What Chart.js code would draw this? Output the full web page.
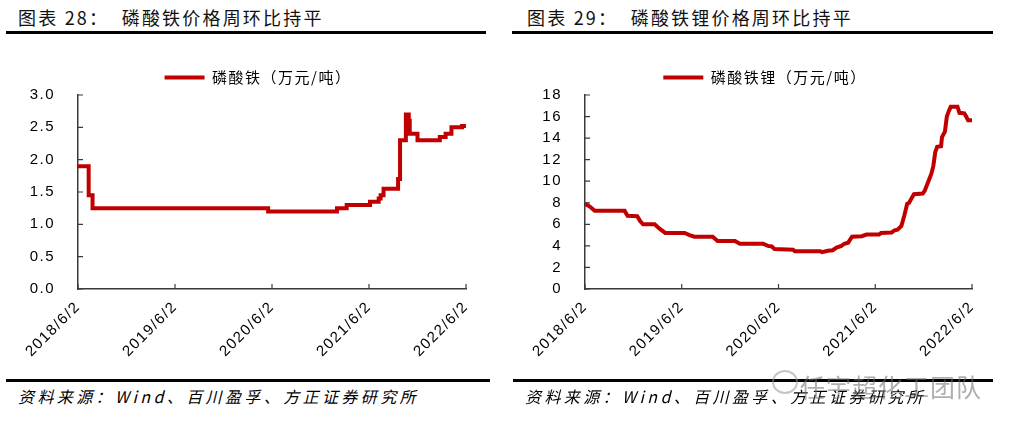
<!DOCTYPE html>
<html lang="zh">
<head>
<meta charset="UTF-8">
<title>磷酸铁 / 磷酸铁锂价格</title>
<script src="https://cdn.jsdelivr.net/npm/chart.js"></script>
<style>
  body { margin: 0; width: 1009px; height: 428px; background: #fff; position: relative; overflow: hidden;
         font-family: 'Noto Sans CJK SC', 'Liberation Sans', sans-serif; }
  .title { position: absolute; top: 4px; font-size: 18px; letter-spacing: 2.2px; color: #111; }
  .rule { position: absolute; height: 3px; background: #000; }
  .source { position: absolute; top: 384px; font-size: 16px; font-style: italic; letter-spacing: 3.4px; color: #000; }
  .box { position: absolute; top: 50px; width: 500px; height: 328px; }
  .mark { position: absolute; left: 800px; top: 368px; font-size: 25px; color: rgba(110,110,110,0.55); letter-spacing: 1px; }
  .bubble { position: absolute; left: 772px; top: 370px; width: 22px; height: 20px; border: 2px solid rgba(150,150,150,0.55); border-radius: 50%; }
</style>
</head>
<body>
  <div class="title" style="left:18px">图表 28：&nbsp; 磷酸铁价格周环比持平</div>
  <div class="rule" style="left:6px;width:480px;top:31px"></div>
  <div class="title" style="left:527px">图表 29：&nbsp; 磷酸铁锂价格周环比持平</div>
  <div class="rule" style="left:512px;width:481px;top:31px"></div>

  <div class="box" style="left:0px"><canvas id="chartFe"></canvas></div>
  <div class="box" style="left:508px"><canvas id="chartLfp"></canvas></div>

  <div class="rule" style="left:6px;width:484px;top:379px"></div>
  <div class="rule" style="left:513px;width:480px;top:379px"></div>
  <div class="source" style="left:18px">资料来源：Wind、百川盈孚、方正证券研究所</div>
  <div class="source" style="left:525px">资料来源：Wind、百川盈孚、方正证券研究所</div>
  <div class="bubble"></div>
  <div class="mark">任宇超化工团队</div>

<script>
// x = years after 2018/6/2
const xTickLabels = ['2018/6/2', '2019/6/2', '2020/6/2', '2021/6/2', '2022/6/2'];

// 磷酸铁 (万元/吨), step changes
const feT = [0, 0.11, 0.15, 1.96, 2.67, 2.77, 3.01, 3.10, 3.12, 3.15, 3.30, 3.32, 3.38, 3.41, 3.42, 3.50, 3.73, 3.79, 3.85, 3.96, 4.0];
const feV = [1.9, 1.45, 1.25, 1.2, 1.25, 1.3, 1.35, 1.4, 1.45, 1.55, 1.7, 2.3, 2.7, 2.6, 2.4, 2.3, 2.35, 2.4, 2.5, 2.52, 2.52];

// 磷酸铁锂 (万元/吨)
const lfpT = [0, 0.05, 0.10, 0.41, 0.44, 0.54, 0.57, 0.60, 0.72, 0.77, 0.83, 1.03, 1.08, 1.13, 1.32, 1.37, 1.55, 1.60, 1.84, 1.89,
              1.93, 1.96, 2.15, 2.17, 2.43, 2.45, 2.51, 2.56, 2.60, 2.65, 2.68, 2.72, 2.76, 2.86, 2.91, 3.04, 3.06, 3.17, 3.20, 3.23,
              3.27, 3.30, 3.33, 3.35, 3.38, 3.40, 3.49, 3.51, 3.55, 3.58, 3.60, 3.62, 3.64, 3.68, 3.69, 3.72, 3.74, 3.76, 3.78, 3.85,
              3.87, 3.92, 3.94, 3.96, 4.0];
const lfpV = [7.9, 7.65, 7.25, 7.25, 6.8, 6.75, 6.3, 6.0, 6.0, 5.6, 5.2, 5.2, 5.0, 4.85, 4.85, 4.45, 4.45, 4.2, 4.2, 4.0,
              3.95, 3.7, 3.65, 3.5, 3.5, 3.42, 3.55, 3.6, 3.85, 4.0, 4.2, 4.3, 4.85, 4.9, 5.05, 5.05, 5.2, 5.25, 5.45, 5.5,
              5.85, 6.8, 7.9, 8.0, 8.5, 8.8, 8.85, 9.1, 10.0, 10.7, 11.4, 12.7, 13.2, 13.25, 14.1, 14.6, 16.0, 16.5, 16.9, 16.9,
              16.35, 16.3, 16.0, 15.65, 15.65];

const red = '#C00000';
const axisColor = '#3a3a3a';

Chart.defaults.font.family = "'Liberation Sans', 'Noto Sans CJK SC', sans-serif";
Chart.defaults.color = '#000';

// the original uses slightly spaced-out text everywhere
const spacedText = {
  id: 'spacedText',
  beforeLayout(chart) { chart.ctx.letterSpacing = '1.5px'; },
  beforeDraw(chart) { chart.ctx.letterSpacing = '1.5px'; }
};

// legend sits a bit right of the canvas centre in the original
const legendShift = {
  id: 'legendShift',
  afterLayout(chart) {
    chart.legend.left += 25;
    chart.legend.right += 25;
  }
};

// small tick marks pointing into the plot
const innerTicks = {
  id: 'innerTicks',
  afterDraw(chart) {
    const ctx = chart.ctx, a = chart.chartArea;
    const xs = chart.scales.x, ys = chart.scales.y;
    ctx.save();
    ctx.strokeStyle = axisColor;
    ctx.lineWidth = 1.2;
    ctx.beginPath();
    ys.ticks.forEach((t, i) => {
      const p = ys.getPixelForTick(i);
      ctx.moveTo(a.left, p); ctx.lineTo(a.left + 5, p);
    });
    xs.ticks.forEach((t, i) => {
      const p = xs.getPixelForTick(i);
      ctx.moveTo(p, a.bottom); ctx.lineTo(p, a.bottom - 5);
    });
    ctx.stroke();
    ctx.restore();
  }
};

function makeChart(id, label, ts, vs, yMax, yStep, yFmt, stepped, yWidth, rightPad) {
  const points = ts.map((t, i) => ({ x: t, y: vs[i] }));
  return new Chart(document.getElementById(id), {
    type: 'line',
    data: {
      datasets: [{
        label: label,
        data: points,
        borderColor: red,
        backgroundColor: red,
        borderWidth: 4,
        pointRadius: 0,
        stepped: stepped,
        tension: 0
      }]
    },
    options: {
      animation: false,
      responsive: true,
      maintainAspectRatio: false,
      layout: { padding: { top: 8, right: rightPad, left: 0, bottom: 0 } },
      plugins: {
        tooltip: { enabled: false },
        legend: {
          display: true,
          labels: {
            usePointStyle: true,
            pointStyle: 'line',
            pointStyleWidth: 40,
            boxHeight: 12,
            padding: 12,
            font: { size: 15, family: "'Noto Sans CJK SC', sans-serif" },
            color: '#000'
          }
        }
      },
      scales: {
        x: {
          type: 'linear',
          min: 0,
          max: 4,
          afterFit: s => { s.height = 89; },
          ticks: {
            stepSize: 1,
            autoSkip: false,
            minRotation: 45,
            maxRotation: 45,
            padding: 9,
            font: { size: 15 },
            callback: v => xTickLabels[v]
          },
          grid: { display: true, drawOnChartArea: false, drawTicks: false },
          border: { display: true, color: axisColor, width: 1.5 }
        },
        y: {
          min: 0,
          max: yMax,
          afterFit: s => { s.width = yWidth; },
          ticks: {
            stepSize: yStep,
            padding: 23,
            font: { size: 15 },
            callback: yFmt
          },
          grid: { display: true, drawOnChartArea: false, drawTicks: false },
          border: { display: true, color: axisColor, width: 1.5 }
        }
      }
    },
    plugins: [spacedText, legendShift, innerTicks]
  });
}

makeChart('chartFe', '磷酸铁（万元/吨）', feT, feV, 3, 0.5, v => v.toFixed(1), 'before', 78, 34);
makeChart('chartLfp', '磷酸铁锂（万元/吨）', lfpT, lfpV, 18, 2, v => v, false, 77, 36);
</script>
</body>
</html>
